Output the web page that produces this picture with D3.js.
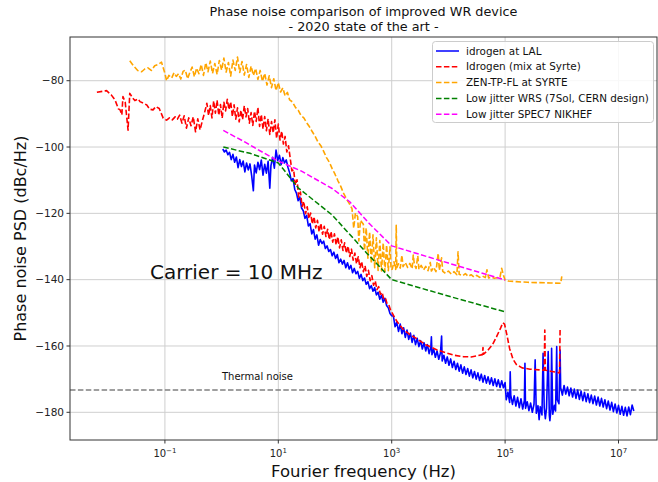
<!DOCTYPE html>
<html><head><meta charset="utf-8">
<script src="https://cdn.jsdelivr.net/npm/d3@7"></script>
<style>body{margin:0;background:#fff}svg{display:block;font-family:"DejaVu Sans",sans-serif}</style>
</head><body>
<svg id="c" width="658" height="482"></svg>
<script>
// ---- data: [log10(frequency in Hz), dBc/Hz] ----
const xTickExponents = [-1, 1, 3, 5, 7];
const yTicks = [-80, -100, -120, -140, -160, -180];
const seriesNames = ["idrogen at LAL", "Idrogen (mix at Syrte)", "ZEN-TP-FL at SYRTE", "Low jitter WRS (7Sol, CERN design)", "Low jitter SPEC7 NIKHEF"];
const seriesColors = ["#0000ff", "#ff0000", "#ffa500", "#008000", "#ff00ff"];
const thermalNoise = -173.3;

const idrogenLAL = [
[0.02,-100.6],[0.05,-101.5],[0.08,-100.9],[0.11,-102.3],[0.14,-101.6],[0.17,-103.8],[0.20,-102.2],[0.23,-104.6],[0.26,-103.0],[0.29,-106.2],[0.32,-103.8],[0.35,-105.9],[0.38,-104.2],[0.41,-107.5],[0.44,-104.8],[0.47,-106.9],[0.50,-105.1],[0.53,-108.6],[0.56,-113.2],[0.58,-105.4],[0.61,-107.8],[0.64,-104.6],[0.67,-106.8],[0.70,-103.9],[0.73,-108.5],[0.76,-105.2],[0.79,-107.9],[0.82,-104.3],[0.85,-112.4],[0.87,-105.6],[0.90,-103.1],[0.93,-106.4],[0.96,-100.9],[0.99,-104.1],[1.02,-102.5],[1.05,-105.3],[1.08,-103.2],[1.11,-104.8],[1.14,-103.9],[1.17,-106.1],
[1.20,-107.8],[1.23,-110.2],[1.26,-109.5],[1.29,-112.8],[1.32,-113.9],[1.35,-116.2],[1.38,-115.1],[1.41,-118.4],[1.44,-119.2],[1.47,-121.5],[1.50,-120.6],[1.53,-123.8],[1.56,-123.1],[1.59,-126.2],[1.62,-124.9],[1.65,-127.8],[1.68,-126.5],[1.71,-129.6],[1.74,-127.9],[1.77,-129.1],[1.80,-128.4],[1.83,-130.6],[1.86,-129.8],[1.89,-131.5],[1.92,-130.9],[1.95,-132.8],[1.98,-131.7],[2.01,-133.6],[2.04,-132.4],[2.07,-134.9],[2.10,-133.8],[2.13,-135.3],[2.16,-134.2],[2.19,-136.4],[2.22,-134.9],[2.25,-136.8],[2.28,-135.7],[2.31,-137.9],[2.34,-136.6],[2.37,-138.2],[2.40,-137.5],[2.43,-139.6],[2.46,-138.4],[2.49,-140.3],[2.52,-139.5],[2.55,-141.4],[2.58,-140.6],[2.61,-142.7],[2.64,-141.8],[2.67,-143.5],[2.70,-142.4],[2.73,-144.6],[2.76,-143.8],[2.79,-145.9],[2.82,-144.7],[2.85,-146.8],[2.88,-145.6],[2.91,-147.8],[2.94,-148.5],[2.97,-150.2],[3.00,-150.9],
[3.03,-151.0],[3.06,-154.2],[3.09,-152.8],[3.12,-155.6],[3.15,-153.4],[3.18,-156.3],[3.21,-154.5],[3.24,-157.4],[3.27,-155.2],[3.30,-158.0],[3.33,-156.1],[3.36,-158.9],[3.39,-156.8],[3.42,-159.6],[3.45,-157.7],[3.48,-160.2],[3.51,-158.4],[3.54,-160.9],[3.57,-159.0],[3.60,-161.5],[3.63,-159.6],[3.66,-162.3],[3.69,-160.4],[3.70,-157.2],[3.71,-162.6],[3.74,-160.9],[3.77,-163.4],[3.80,-161.5],[3.83,-164.0],[3.86,-162.1],[3.88,-157.0],[3.89,-164.5],[3.92,-162.8],[3.95,-165.2],[3.98,-163.3],[4.01,-165.8],[4.04,-163.9],[4.07,-166.5],[4.10,-164.6],[4.13,-167.1],[4.16,-165.2],[4.19,-167.6],[4.22,-165.7],[4.25,-168.2],[4.28,-166.3],[4.31,-168.6],[4.34,-166.8],[4.37,-169.1],[4.40,-167.2],[4.43,-169.6],[4.46,-167.7],[4.49,-170.0],[4.52,-168.1],[4.55,-170.4],[4.58,-168.5],[4.61,-170.9],[4.64,-168.9],[4.67,-171.2],[4.70,-169.3],[4.73,-171.5],[4.76,-169.6],[4.79,-171.9],[4.82,-169.9],[4.85,-172.2],[4.88,-170.2],[4.91,-172.5],[4.94,-170.5],[4.97,-172.6],[5.00,-171.0],
[5.02,-176.2],[5.05,-173.9],[5.08,-177.0],[5.09,-167.8],[5.10,-174.8],[5.13,-177.6],[5.16,-175.0],[5.19,-178.1],[5.22,-175.5],[5.25,-178.6],[5.28,-175.9],[5.31,-179.0],[5.34,-176.4],[5.35,-165.2],[5.36,-178.8],[5.39,-176.8],[5.42,-179.5],[5.45,-177.2],[5.48,-180.0],[5.51,-177.5],[5.53,-164.2],[5.55,-180.3],[5.58,-178.0],[5.60,-182.2],[5.62,-178.3],[5.65,-180.8],[5.67,-162.2],[5.69,-178.6],[5.71,-181.9],[5.73,-178.8],[5.76,-161.7],[5.78,-180.9],[5.79,-182.5],[5.81,-179.0],[5.82,-160.7],[5.84,-180.6],[5.87,-177.9],[5.89,-179.6],[5.91,-160.2],[5.92,-176.2],[5.95,-177.4],[5.97,-161.2],[5.98,-172.6],[6.01,-174.8],[6.04,-171.9],[6.07,-174.5],[6.10,-172.4],[6.13,-175.0],[6.16,-172.7],[6.19,-175.4],[6.22,-173.0],[6.25,-175.8],[6.28,-173.3],[6.31,-176.1],[6.34,-173.6],[6.37,-176.5],[6.40,-174.0],[6.43,-176.8],[6.46,-174.4],[6.49,-177.1],[6.52,-174.8],[6.55,-177.4],[6.58,-175.1],[6.61,-177.8],[6.64,-175.4],[6.67,-178.1],[6.70,-175.8],[6.73,-178.4],[6.76,-176.2],[6.79,-178.9],[6.82,-176.6],[6.85,-179.3],[6.88,-177.0],[6.91,-179.8],[6.94,-177.5],[6.97,-180.2],[7.00,-177.9],[7.03,-180.6],[7.06,-178.2],[7.09,-180.9],[7.12,-178.5],[7.15,-181.1],[7.18,-178.4],[7.21,-180.7],[7.24,-177.8],[7.27,-179.6]
];

const idrogenSyrte = [
[-2.20,-83.5],[-2.03,-83.0],[-1.95,-84.2],[-1.88,-85.8],[-1.82,-88.5],[-1.79,-88.8],[-1.76,-90.3],[-1.74,-84.8],[-1.70,-86.5],[-1.65,-94.9],[-1.62,-83.8],[-1.57,-85.2],[-1.53,-86.0],[-1.47,-85.5],[-1.44,-86.3],[-1.38,-86.8],[-1.32,-87.3],[-1.27,-88.6],[-1.21,-88.8],[-1.16,-87.8],[-1.10,-88.4],[-1.03,-91.3],[-0.97,-91.9],[-0.92,-91.2],[-0.87,-91.8],[-0.82,-90.9],[-0.78,-91.6],[-0.74,-90.4],[-0.70,-92.8],[-0.66,-90.6],[-0.62,-94.3],[-0.58,-91.2],[-0.54,-93.6],[-0.50,-90.9],[-0.46,-95.4],[-0.42,-91.5],[-0.38,-94.8],[-0.34,-92.1],[-0.30,-89.6],[-0.26,-86.8],[-0.23,-90.5],
[-0.20,-87.5],[-0.17,-91.2],[-0.14,-86.1],[-0.11,-89.8],[-0.08,-85.9],[-0.05,-90.4],[-0.02,-87.2],[0.01,-91.3],[0.04,-86.5],[0.07,-89.1],[0.10,-85.6],[0.13,-88.7],[0.16,-86.4],[0.19,-90.8],[0.22,-87.3],[0.25,-91.6],[0.28,-88.2],[0.31,-92.4],[0.34,-88.9],[0.37,-91.7],[0.40,-87.6],[0.43,-90.9],[0.46,-88.4],[0.49,-92.8],[0.52,-89.6],[0.55,-93.5],[0.58,-89.2],[0.61,-92.3],[0.64,-88.1],[0.67,-93.8],[0.70,-90.2],[0.73,-94.6],[0.76,-90.8],[0.79,-95.1],[0.82,-91.5],[0.85,-96.2],[0.88,-92.3],[0.91,-95.7],[0.94,-91.8],[0.97,-97.4],[1.00,-93.1],[1.03,-97.9],[1.06,-95.2],[1.09,-99.1],[1.12,-96.8],[1.15,-101.5],[1.18,-99.6],
[1.21,-103.4],[1.24,-107.2],[1.27,-106.8],[1.30,-111.5],[1.33,-109.9],[1.36,-115.1],[1.39,-113.6],[1.42,-117.9],[1.45,-116.4],[1.48,-120.1],[1.51,-118.0],[1.54,-121.6],[1.57,-119.9],[1.60,-123.2],[1.63,-121.0],[1.66,-124.4],[1.69,-122.1],[1.72,-125.6],[1.75,-123.0],[1.78,-126.3],[1.81,-123.9],[1.84,-127.0],[1.87,-124.8],[1.90,-127.9],[1.93,-125.5],[1.96,-128.7],[1.99,-126.2],[2.02,-129.5],[2.05,-127.1],[2.08,-130.4],[2.11,-128.0],[2.14,-131.2],[2.17,-128.9],[2.20,-132.0],[2.23,-129.9],[2.26,-133.0],[2.29,-130.8],[2.32,-134.1],[2.35,-132.0],[2.38,-135.2],[2.41,-133.1],[2.44,-136.4],[2.47,-134.5],[2.50,-137.6],[2.53,-135.8],[2.56,-139.0],[2.59,-137.2],[2.62,-140.3],[2.65,-138.8],[2.68,-141.7],[2.71,-140.4],[2.74,-143.0],[2.77,-142.1],[2.80,-144.4],[2.83,-143.8],[2.86,-145.9],[2.89,-145.6],[2.92,-147.4],[2.95,-147.6],[2.98,-149.2],[3.01,-150.1],[3.05,-151.4],[3.10,-152.8],
[3.20,-154.9],[3.30,-156.3],[3.44,-157.8],[3.60,-159.6],[3.80,-161.2],[3.97,-162.1],[4.10,-162.8],[4.26,-163.2],[4.40,-163.3],[4.50,-163.0],[4.60,-162.6],[4.61,-160.5],[4.62,-162.5],[4.70,-161.2],[4.78,-159.5],[4.85,-157.2],[4.92,-154.6],[4.96,-153.0],[4.99,-153.4],[5.03,-156.5],[5.08,-160.8],[5.14,-164.0],[5.20,-165.6],[5.30,-166.6],[5.44,-167.0],[5.60,-167.2],[5.69,-167.3],[5.70,-155.2],[5.71,-167.3],[5.80,-167.6],[5.90,-167.9],[5.96,-168.1],[5.97,-154.6]
];

const zenSyrte = [
[-1.62,-74.0],[-1.55,-75.6],[-1.48,-76.9],[-1.41,-77.3],[-1.35,-76.4],[-1.30,-76.1],[-1.24,-76.9],[-1.18,-75.5],[-1.12,-75.1],[-1.06,-74.4],[-1.00,-77.8],[-0.97,-80.0],[-0.93,-78.4],[-0.88,-79.2],[-0.84,-77.6],[-0.80,-78.7],[-0.76,-77.9],[-0.72,-79.5],[-0.68,-77.2],[-0.64,-76.8],[-0.60,-79.4],[-0.56,-77.5],[-0.52,-75.9],[-0.48,-78.8],[-0.44,-76.2],[-0.40,-77.9],[-0.36,-75.1],[-0.32,-78.4],[-0.28,-74.6],[-0.24,-77.3],[-0.20,-74.1],[-0.16,-77.8],[-0.12,-74.8],[-0.08,-78.1],[-0.04,-73.9],[0.00,-76.8],
[0.04,-73.2],[0.08,-77.4],[0.12,-74.5],[0.16,-78.6],[0.20,-73.8],[0.24,-76.9],[0.28,-72.9],[0.32,-77.5],[0.36,-74.2],[0.40,-78.3],[0.44,-75.1],[0.48,-79.0],[0.52,-75.6],[0.56,-78.4],[0.60,-76.3],[0.64,-79.6],[0.68,-76.9],[0.72,-80.2],[0.76,-77.8],[0.80,-81.3],[0.84,-78.5],[0.88,-82.1],[0.92,-79.4],[0.96,-83.0],[1.00,-80.6],[1.04,-83.4],[1.08,-82.2],[1.12,-84.6],[1.16,-83.5],[1.20,-85.8],[1.25,-86.4],[1.30,-88.0],[1.35,-88.9],[1.40,-90.5],[1.45,-91.2],[1.50,-92.7],[1.55,-93.9],[1.60,-95.4],[1.65,-96.8],[1.70,-98.5],[1.75,-99.6],[1.80,-101.3],[1.85,-103.2],[1.90,-104.6],[1.95,-106.5],[2.00,-108.2],[2.05,-110.1],[2.10,-111.8],[2.15,-113.9],[2.20,-115.6],[2.25,-117.0],
[2.30,-118.6],[2.33,-124.5],[2.36,-119.9],[2.40,-121.0],[2.42,-128.3],[2.45,-122.1],[2.50,-123.3],[2.52,-131.2],[2.55,-124.4],[2.58,-133.5],[2.61,-125.6],[2.64,-135.1],[2.67,-126.5],[2.70,-136.4],[2.73,-127.4],[2.76,-137.2],[2.79,-128.2],[2.82,-137.4],[2.85,-128.9],[2.88,-137.6],[2.91,-129.6],[2.94,-137.3],[2.97,-130.1],[2.99,-137.0],
[3.01,-136.8],[3.04,-134.6],[3.07,-136.9],[3.08,-123.6],[3.09,-136.4],[3.12,-135.2],[3.15,-136.5],[3.18,-132.6],[3.20,-136.1],[3.24,-134.8],[3.28,-136.3],[3.32,-135.1],[3.36,-136.7],[3.38,-132.6],[3.40,-135.4],[3.43,-136.6],[3.46,-132.8],[3.48,-136.9],[3.52,-135.7],[3.56,-137.1],[3.60,-136.0],[3.64,-137.3],[3.68,-134.8],[3.70,-137.4],[3.74,-136.3],[3.78,-137.6],[3.82,-132.1],[3.84,-137.2],[3.88,-133.4],[3.90,-137.5],[3.95,-138.1],[4.00,-137.4],[4.05,-138.3],[4.10,-137.6],[4.15,-138.5],[4.17,-131.6],[4.19,-138.4],[4.25,-138.8],[4.30,-138.2],[4.35,-139.0],[4.40,-138.5],[4.45,-139.2],[4.50,-138.7],[4.55,-139.3],[4.60,-138.9],[4.65,-139.4],[4.68,-137.0],[4.71,-139.5],[4.76,-139.2],[4.81,-139.6],[4.86,-139.4],[4.91,-139.2],[4.94,-136.6],[4.97,-138.6],[5.00,-140.1],[5.05,-140.4],[5.20,-140.6],[5.40,-140.8],[5.60,-140.9],[5.80,-141.0],[5.98,-141.1],[6.00,-139.0]
];

const wrs7Sol = [[0.03,-100.0],[0.50,-101.9],[1.00,-104.8],[1.35,-112.3],[1.95,-120.5],[2.56,-132.0],[3.00,-140.0],[4.03,-145.1],[5.00,-149.7]];

const spec7Nikhef = [[0.03,-95.0],[0.40,-98.4],[0.97,-104.0],[1.40,-107.2],[1.95,-112.5],[2.26,-116.5],[2.60,-123.0],[3.00,-129.8],[4.00,-135.0],[5.00,-140.1]];

// ---- layout ----
const svg = d3.select("#c");
const L = 70, R = 657, T = 37, B = 440;
const x = d3.scaleLog().domain([Math.pow(10, -2.674), Math.pow(10, 7.679)]).range([L, R]);
const y = d3.scaleLinear().domain([-188.35, -66.82]).range([B, T]);

// grid
const grid = svg.append("g");
xTickExponents.forEach(e => {
  grid.append("line").attr("x1", x(Math.pow(10, e))).attr("x2", x(Math.pow(10, e)))
    .attr("y1", T).attr("y2", B).attr("stroke", "#cfcfcf").attr("stroke-width", 1);
});
yTicks.forEach(v => {
  grid.append("line").attr("x1", L).attr("x2", R).attr("y1", y(v)).attr("y2", y(v))
    .attr("stroke", "#cfcfcf").attr("stroke-width", 1);
});

// clip
svg.append("clipPath").attr("id", "clip").append("rect").attr("x", L).attr("y", T).attr("width", R - L).attr("height", B - T);
const plot = svg.append("g").attr("clip-path", "url(#clip)");

const line = d3.line().x(d => x(Math.pow(10, d[0]))).y(d => y(d[1]));

// thermal noise
plot.append("line").attr("x1", L).attr("x2", R).attr("y1", y(thermalNoise)).attr("y2", y(thermalNoise))
  .attr("stroke", "#808080").attr("stroke-width", 1.5).attr("stroke-dasharray", "5.5,2.4");

const series = [idrogenLAL, idrogenSyrte, zenSyrte, wrs7Sol, spec7Nikhef];
const dashed = [false, true, true, true, true];
series.forEach((s, i) => {
  plot.append("path").datum(s).attr("d", line).attr("fill", "none")
    .attr("stroke", seriesColors[i]).attr("stroke-width", i < 3 ? 1.6 : 1.5)
    .attr("stroke-linejoin", "round")
    .attr("stroke-dasharray", dashed[i] ? "5.5,2.4" : null);
});

// frame
svg.append("rect").attr("x", L).attr("y", T).attr("width", R - L).attr("height", B - T)
  .attr("fill", "none").attr("stroke", "#333").attr("stroke-width", 1);

// x ticks
const xt = svg.append("g");
xTickExponents.forEach(e => {
  const px = x(Math.pow(10, e));
  xt.append("line").attr("x1", px).attr("x2", px).attr("y1", B).attr("y2", B + 3.5).attr("stroke", "#333");
  const t = xt.append("text").attr("x", px).attr("y", 457).attr("text-anchor", "middle")
    .attr("font-size", 10).attr("fill", "#222");
  t.append("tspan").text("10");
  t.append("tspan").attr("font-size", 7).attr("dy", -4.5).text(e < 0 ? "\u2212" + Math.abs(e) : String(e));
});
// y ticks
const yt = svg.append("g");
yTicks.forEach(v => {
  const py = y(v);
  yt.append("line").attr("x1", L - 3.5).attr("x2", L).attr("y1", py).attr("y2", py).attr("stroke", "#333");
  yt.append("text").attr("x", L - 6).attr("y", py).attr("dy", "0.35em").attr("text-anchor", "end")
    .attr("font-size", 10.5).attr("fill", "#222").text("\u2212" + Math.abs(v));
});

// labels
svg.append("text").attr("x", (L + R) / 2).attr("y", 477).attr("text-anchor", "middle")
  .attr("font-size", 16.5).attr("fill", "#111").text("Fourier frequency (Hz)");
svg.append("text").attr("transform", "translate(26," + ((T + B) / 2) + ") rotate(-90)")
  .attr("text-anchor", "middle").attr("font-size", 16).attr("fill", "#111").text("Phase noise PSD (dBc/Hz)");
svg.append("text").attr("x", (L + R) / 2).attr("y", 16).attr("text-anchor", "middle")
  .attr("font-size", 12.8).attr("fill", "#111").text("Phase noise comparison of improved WR device");
svg.append("text").attr("x", (L + R) / 2).attr("y", 31).attr("text-anchor", "middle")
  .attr("font-size", 12.8).attr("fill", "#111").text("- 2020 state of the art -");

svg.append("text").attr("x", 150).attr("y", 279).attr("font-size", 20).attr("fill", "#111").text("Carrier = 10 MHz");
svg.append("text").attr("x", 222).attr("y", 380).attr("font-size", 10).attr("fill", "#111").text("Thermal noise");

// legend
const lg = svg.append("g");
lg.append("rect").attr("x", 432.5).attr("y", 41.5).attr("width", 221).attr("height", 81).attr("rx", 3)
  .attr("fill", "#fff").attr("fill-opacity", 0.85).attr("stroke", "#cccccc");
seriesNames.forEach((n, i) => {
  const ly = 51 + i * 15.8;
  lg.append("line").attr("x1", 436).attr("x2", 459).attr("y1", ly).attr("y2", ly)
    .attr("stroke", seriesColors[i]).attr("stroke-width", 1.5)
    .attr("stroke-dasharray", dashed[i] ? "5.5,2.4" : null);
  lg.append("text").attr("x", 466).attr("y", ly).attr("dy", "0.35em").attr("font-size", 10.4)
    .attr("fill", "#111").text(n);
});
</script>
</body></html>
